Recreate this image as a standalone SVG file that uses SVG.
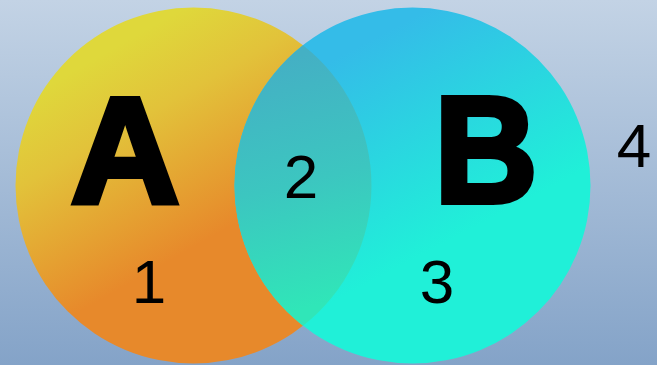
<svg xmlns="http://www.w3.org/2000/svg" width="657" height="365" viewBox="0 0 657 365">
<defs>
<linearGradient id="bg" x1="0" y1="0" x2="0" y2="1">
<stop offset="0" stop-color="#c3d3e5"/>
<stop offset="1" stop-color="#84a3c8"/>
</linearGradient>
<linearGradient id="gA" gradientUnits="userSpaceOnUse" x1="110" y1="50" x2="215" y2="235">
<stop offset="0" stop-color="#dfd83b"/>
<stop offset="0.35" stop-color="#e2c23a"/>
<stop offset="1" stop-color="#e7892b"/>
</linearGradient>
<linearGradient id="gB" gradientUnits="userSpaceOnUse" x1="370" y1="40" x2="470" y2="230">
<stop offset="0" stop-color="#34bce8"/>
<stop offset="1" stop-color="#20f0d8"/>
</linearGradient>
<linearGradient id="gAB" gradientUnits="userSpaceOnUse" x1="280" y1="60" x2="340" y2="300">
<stop offset="0" stop-color="#44b0c4"/>
<stop offset="0.5" stop-color="#3cc6c0"/>
<stop offset="1" stop-color="#30e6b8"/>
</linearGradient>
<style>
.big{font-family:"Liberation Sans",Arial,sans-serif;font-weight:bold;font-size:150px;fill:#000;stroke:#000;stroke-width:6;stroke-linejoin:miter}
.num{font-family:"Liberation Sans",Arial,sans-serif;font-size:62px;fill:#000;text-anchor:middle}
</style>
</defs>
<rect width="657" height="365" fill="url(#bg)"/>
<g id="setA">
<circle cx="193.5" cy="185.5" r="178" fill="url(#gA)"/>
</g>
<g id="setB">
<circle cx="412.5" cy="185.5" r="178" fill="url(#gB)"/>
</g>
<g id="intersection">
<path d="M303,45.2 A178,178 0 0,0 303,325.8 A178,178 0 0,0 303,45.2 Z" fill="url(#gAB)"/>
</g>
<g id="connectors"/>
<g id="labels">
<text class="big" x="71" y="202">A</text>
<text class="big" x="-11" y="0" transform="translate(445,202) scale(0.95,1)">B</text>
<text class="num" x="149" y="303">1</text>
<text class="num" x="301" y="198">2</text>
<text class="num" x="437" y="303">3</text>
<text class="num" x="634" y="167">4</text>
</g>
</svg>
